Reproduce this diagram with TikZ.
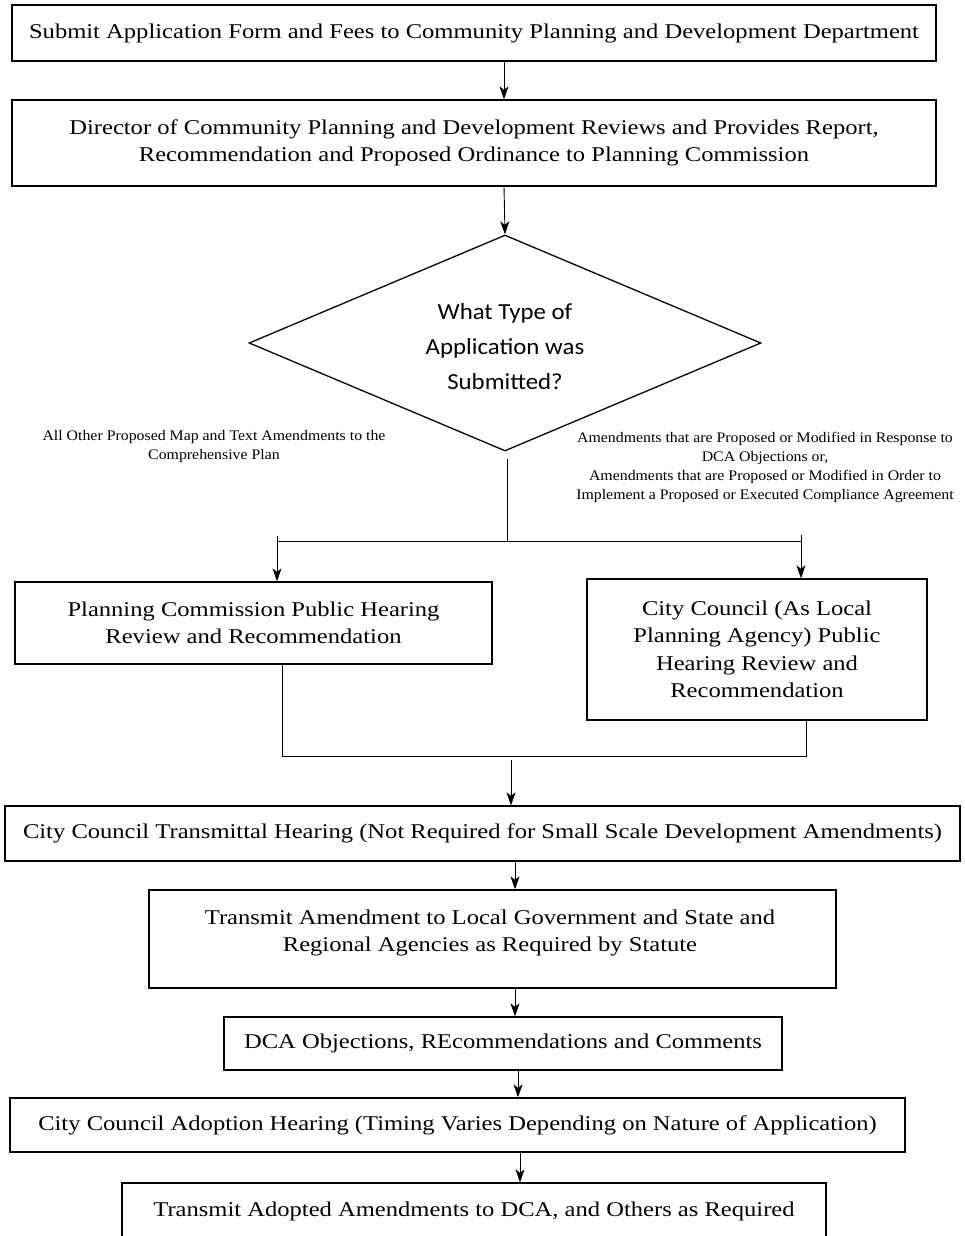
\documentclass[tikz,border=0pt]{standalone}
\usepackage{fontspec}
\setmainfont{Liberation Serif}[FakeStretch=1.17]
\newfontfamily\notefont{Liberation Serif}[FakeStretch=1.085]
\newfontfamily\qfont{Carlito}[FakeStretch=1.08]
\usetikzlibrary{shapes.geometric,arrows.meta}

\begin{document}
\begin{tikzpicture}[x=1pt,y=-1pt,
  box/.style={draw, line width=1.3pt, inner sep=0pt, align=center,
              font=\fontsize{21}{27.5}\selectfont},
  txt/.style={inner sep=0pt, align=center, font=\fontsize{21}{27.5}\selectfont},
  note/.style={inner sep=0pt, align=center, font=\notefont\fontsize{14.6}{19}\selectfont},
  link/.style={line width=0.9pt},
  arr/.style={link, -{Stealth[length=13pt,width=9pt,inset=3.5pt]}}]
\useasboundingbox (0,0) rectangle (965,1236);
\clip (0,0) rectangle (965,1236);

% process boxes
\node[box, minimum width=924pt, minimum height=56pt] (b1) at (474,33)
  {Submit Application Form and Fees to Community Planning and Development Department};
\node[box, minimum width=924pt, minimum height=86pt] (b2) at (474,143)
  {Director of Community Planning and Development Reviews and Provides Report,\\
   Recommendation and Proposed Ordinance to Planning Commission};

% decision
\node[draw, diamond, line width=1.3pt, inner sep=0pt, minimum width=512pt,
      minimum height=216pt] (dia) at (505,343) {};
\node[inner sep=0pt, align=center, font=\qfont\fontsize{23}{35}\selectfont] (q) at (505,347)
  {What Type of\\ Application was\\ Submitted?};

% branch labels
\node[note] (nl) at (214,446)
  {All Other Proposed Map and Text Amendments to the\\ Comprehensive Plan};
\node[note] (nr) at (765,467)
  {Amendments that are Proposed or Modified in Response to\\ DCA Objections or,\\
   Amendments that are Proposed or Modified in Order to\\
   Implement a Proposed or Executed Compliance Agreement};

% the two hearing boxes
\node[box, minimum width=477pt, minimum height=82pt] (pc) at (253.5,623)
  {Planning Commission Public Hearing\\ Review and Recommendation};
\node[box, minimum width=340pt, minimum height=141pt] (cc) at (757,649.5)
  {City Council (As Local\\ Planning Agency) Public\\ Hearing Review and\\ Recommendation};

% lower chain
\node[box, minimum width=955pt, minimum height=55pt] (tr) at (482.5,833.5)
  {City Council Transmittal Hearing (Not Required for Small Scale Development Amendments)};
\node[box, minimum width=687pt, minimum height=98pt] (ta) at (492.5,939) {};
\node[txt] (tat) at (490,933)
  {Transmit Amendment to Local Government and State and\\
   Regional Agencies as Required by Statute};
\node[box, minimum width=558pt, minimum height=53pt] (dca) at (503,1043.5)
  {DCA Objections, REcommendations and Comments};
\node[box, minimum width=895pt, minimum height=54pt] (ad) at (457.5,1125)
  {City Council Adoption Hearing (Timing Varies Depending on Nature of Application)};
\node[box, minimum width=704pt, minimum height=56pt] (la) at (474,1211)
  {Transmit Adopted Amendments to DCA, and Others as Required};

% connectors
\coordinate (a1) at (504,0);
\draw[arr] (b1.south -| a1) -- (b2.north -| a1);
\draw[arr] (b2.south -| a1) -- (dia.north);

\coordinate (s1) at (507,459);
\coordinate (s2) at (507,541);
\coordinate (sl) at (277,541);
\coordinate (sr) at (801,541);
\draw[link] (s1) -- (s2);
\draw[link] (sl) -- (sr);
\draw[arr] ([yshift=5pt]sl) -- (pc.north -| sl);
\draw[arr] ([yshift=6pt]sr) -- (cc.north -| sr);

\coordinate (m1) at (282,756);
\coordinate (m2) at (806,756);
\coordinate (m3) at (511,760);
\draw[link] (pc.south -| m1) -- (m1) -- (m2) -- (cc.south -| m2);
\draw[arr] (m3) -- (tr.north -| m3);

\coordinate (a2) at (515,0);
\draw[arr] (tr.south -| a2) -- (ta.north -| a2);
\draw[arr] (ta.south -| a2) -- (dca.north -| a2);
\coordinate (a3) at (518,0);
\draw[arr] (dca.south -| a3) -- (ad.north -| a3);
\coordinate (a4) at (520,0);
\draw[arr] (ad.south -| a4) -- (la.north -| a4);
\end{tikzpicture}
\end{document}
